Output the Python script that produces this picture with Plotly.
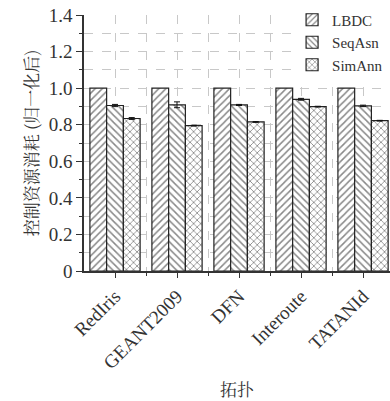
import plotly.graph_objects as go

categories = ["RedIris", "GEANT2009", "DFN", "Interoute", "TATANId"]
lbdc = [1.0, 1.0, 1.0, 1.0, 1.0]
seqasn = [0.905, 0.909, 0.908, 0.939, 0.903]
seqasn_err = [0.006, 0.016, 0.003, 0.005, 0.004]
simann = [0.834, 0.795, 0.815, 0.899, 0.822]
simann_err = [0.005, 0.002, 0.002, 0.002, 0.002]
yticks = [0, 0.2, 0.4, 0.6, 0.8, 1.0, 1.2, 1.4]
yticklabels = ["0", "0.2", "0.4", "0.6", "0.8", "1.0", "1.2", "1.4"]

xs = list(range(len(categories)))
serif = "Liberation Serif"
edge = dict(color="#222222", width=1.2)

def pat(shape):
    return dict(shape=shape, fgcolor="#111111", bgcolor="white", size=5, solidity=0.3)

fig = go.Figure()
fig.add_trace(go.Bar(
    x=xs, y=lbdc, name="LBDC",
    marker=dict(color="white", line=edge, pattern=pat("/")),
))
fig.add_trace(go.Bar(
    x=xs, y=seqasn, name="SeqAsn",
    error_y=dict(type="data", array=seqasn_err, color="#111111", thickness=1, width=3),
    marker=dict(color="white", line=edge, pattern=pat("\\")),
))
fig.add_trace(go.Bar(
    x=xs, y=simann, name="SimAnn",
    error_y=dict(type="data", array=simann_err, color="#111111", thickness=1, width=3),
    marker=dict(color="white", line=edge, pattern=pat("x")),
))

grid_color = "#c8c8c8"
fig.update_layout(
    width=390, height=401,
    margin=dict(l=84, r=0, t=15, b=130),
    paper_bgcolor="white", plot_bgcolor="white",
    barmode="group", bargap=0.19, bargroupgap=0,
    font=dict(family=serif, size=17, color="#333333"),
    showlegend=True,
    legend=dict(x=0.68, y=1.045, xanchor="left", yanchor="top",
                bgcolor="white", font=dict(family=serif, size=15, color="#333333"),
                tracegroupgap=0, itemwidth=30),
    xaxis=dict(
        range=[-0.5, 4.435], automargin=False,
        tickvals=xs, ticktext=categories, tickangle=-45,
        ticks="outside", ticklen=5, tickcolor="#333333",
        showline=True, linecolor="#333333", linewidth=1.5,
        showgrid=True, gridcolor=grid_color, griddash="dash", gridwidth=1,
        minor=dict(tickvals=[0.5, 1.5, 2.5, 3.5], ticks="outside", ticklen=3,
                   tickcolor="#333333", showgrid=True, gridcolor=grid_color, griddash="dash"),
        zeroline=False,
        title=dict(text="拓扑", font=dict(family="Noto Serif CJK SC, Noto Sans CJK SC", size=17, color="#333333"), standoff=22),
        tickfont=dict(family=serif, size=19),
    ),
    yaxis=dict(
        range=[0, 1.4], automargin=False,
        tickvals=yticks, ticktext=yticklabels,
        ticks="outside", ticklen=6, tickcolor="#333333",
        showline=True, linecolor="#333333", linewidth=1.5,
        showgrid=True, gridcolor=grid_color, griddash="dash", gridwidth=1,
        minor=dict(dtick=0.1, tick0=0, ticks="outside", ticklen=3, tickcolor="#333333",
                   showgrid=True, gridcolor=grid_color, griddash="dash"),
        zeroline=False,
        title=dict(text="控制资源消耗 (归一化后)", font=dict(family="Noto Serif CJK SC, Noto Sans CJK SC", size=17, color="#333333"), standoff=6),
        tickfont=dict(family=serif, size=19),
    ),
)

fig.write_html("out.html")
